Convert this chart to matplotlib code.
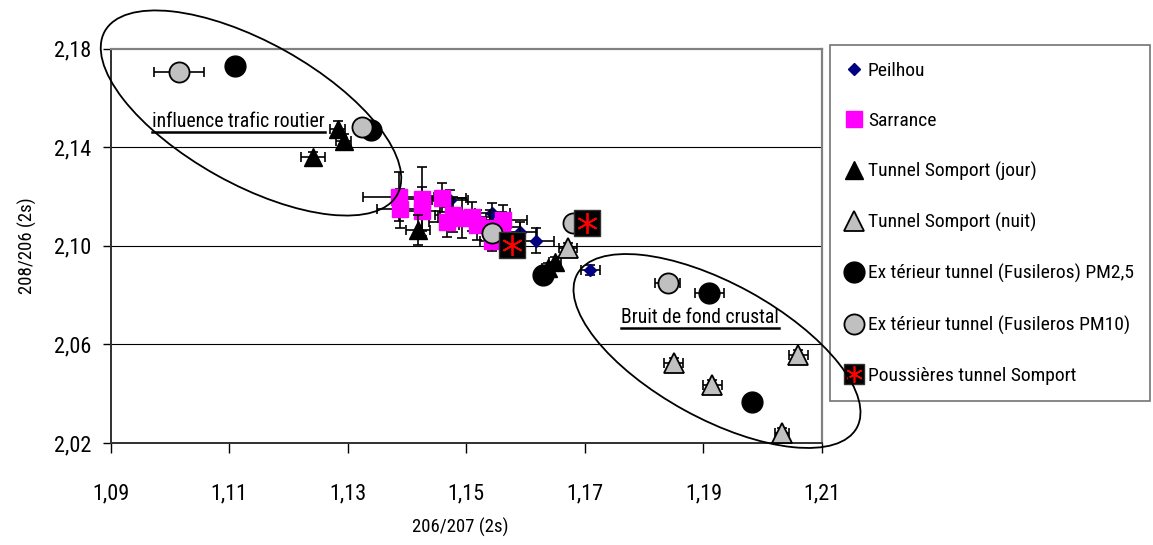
import matplotlib
matplotlib.use("Agg")
import matplotlib.pyplot as plt
from matplotlib import font_manager
from matplotlib.patches import Ellipse
from matplotlib.lines import Line2D
from matplotlib.transforms import IdentityTransform
from matplotlib.legend_handler import HandlerTuple

names = {f.name for f in font_manager.fontManager.ttflist}
narrow = None
for cand in ['Liberation Sans Narrow', 'Arial Narrow', 'Roboto Condensed', 'Open Sans Condensed',
             'DejaVu Sans Condensed']:
    if cand in names:
        narrow = cand
        break
if narrow:
    plt.rcParams['font.family'] = [narrow, 'DejaVu Sans']
    FS_LEG, FS_ANN, FS_AX, FS_TK = 14, 14.2, 13.5, 16
else:
    plt.rcParams['font.family'] = ['Liberation Sans', 'DejaVu Sans']
    FS_LEG, FS_ANN, FS_AX, FS_TK = 12.5, 12.5, 12, 13.5

# ---------------- data ----------------
x_ticks = [1.09, 1.11, 1.13, 1.15, 1.17, 1.19, 1.21]
x_tick_labels = ["1,09", "1,11", "1,13", "1,15", "1,17", "1,19", "1,21"]
y_ticks = [2.02, 2.06, 2.10, 2.14, 2.18]
y_tick_labels = ["2,02", "2,06", "2,10", "2,14", "2,18"]

peil_x = [1.1473, 1.1544, 1.1590, 1.1618, 1.1709]
peil_y = [2.1187, 2.1134, 2.1057, 2.1020, 2.0902]
peil_xerr = [0.003, 0.003, 0.003, 0.003, 0.0016]
peil_yerr = [0.004, 0.004, 0.004, 0.005, 0.002]

sarr_x = [1.1386, 1.1389, 1.1426, 1.1426, 1.1459, 1.1468, 1.1478, 1.1493,
          1.1510, 1.1518, 1.1540, 1.1560, 1.1562, 1.1544]
sarr_y = [2.1199, 2.1150, 2.1190, 2.1140, 2.1195, 2.1097, 2.1126, 2.1113,
          2.1118, 2.1085, 2.1073, 2.1077, 2.1105, 2.1020]
sarr_xerr = [0.006, 0.004, 0.004, 0.003, 0.004, 0.003, 0.003, 0.004,
             0.003, 0.003, 0.003, 0.003, 0.004, 0.002]
sarr_yerr = [0.010, 0.008, 0.013, 0.010, 0.006, 0.006, 0.007, 0.008,
             0.006, 0.006, 0.007, 0.006, 0.006, 0.004]

jour_x = [1.1242, 1.1283, 1.1293, 1.1419, 1.1638, 1.1650]
jour_y = [2.1361, 2.1474, 2.1425, 2.1065, 2.0910, 2.0935]
jour_xerr = [0.002, 0.0012, 0.0012, 0.002, 0.001, 0.001]
jour_yerr = [0.002, 0.003, 0.003, 0.006, 0.002, 0.002]

nuit_x = [1.1672, 1.1850, 1.1915, 1.2060, 1.2033]
nuit_y = [2.0990, 2.0525, 2.0436, 2.0557, 2.0240]
nuit_xerr = [0.0015, 0.0016, 0.0016, 0.0016, 0.0012]
nuit_yerr = [0.002, 0.002, 0.002, 0.002, 0.002]

pm25_x = [1.1110, 1.1340, 1.1630, 1.1910, 1.1982]
pm25_y = [2.1727, 2.1470, 2.0882, 2.0809, 2.0366]
pm25_xerr = [0.0012, 0.0012, 0.001, 0.0025, 0.0012]
pm25_yerr = [0.0005, 0.0005, 0.0005, 0.0005, 0.0005]

pm10_x = [1.1016, 1.1325, 1.1544, 1.1680, 1.1840]
pm10_y = [2.1706, 2.1480, 2.1053, 2.1093, 2.0850]
pm10_xerr = [0.0042, 0.001, 0.001, 0.001, 0.0021]
pm10_yerr = [0.0008, 0.0008, 0.0008, 0.0008, 0.0008]

pous_x = [1.1577, 1.1704]
pous_y = [2.1005, 2.1093]

labels = ["Peilhou", "Sarrance", "Tunnel Somport (jour)", "Tunnel Somport (nuit)",
          "Ex térieur tunnel (Fusileros) PM2,5", "Ex térieur tunnel (Fusileros PM10)",
          "Poussières tunnel Somport"]

# ---------------- figure ----------------
W, H = 1153, 545
fig = plt.figure(figsize=(W / 100, H / 100), dpi=100)
ax = fig.add_axes([110.5 / W, (H - 443) / H, (822 - 110.5) / W, (443 - 48.5) / H])
ax.set_xlim(1.09, 1.21)
ax.set_ylim(2.02, 2.18)

eb_kw = dict(fmt='none', ecolor='black', elinewidth=1.2, capsize=3.6, capthick=1.2)

series = [
    (peil_x, peil_y, peil_xerr, peil_yerr, dict(marker='D', ms=6.5, mfc='#000080', mec='#000080')),
    (sarr_x, sarr_y, sarr_xerr, sarr_yerr, dict(marker='s', ms=11.5, mfc='#ff00ff', mec='#ff00ff')),
    (jour_x, jour_y, jour_xerr, jour_yerr, dict(marker='^', ms=13.5, mfc='black', mec='black')),
    (nuit_x, nuit_y, nuit_xerr, nuit_yerr, dict(marker='^', ms=14, mfc='#c0c0c0', mec='black', mew=1.3)),
    (pm25_x, pm25_y, pm25_xerr, pm25_yerr, dict(marker='o', ms=15, mfc='black', mec='black')),
    (pm10_x, pm10_y, pm10_xerr, pm10_yerr, dict(marker='o', ms=14.5, mfc='#c0c0c0', mec='black', mew=1.3)),
]
handles = []
z = 3
for (xs, ys, xe, ye, stl), lab in zip(series, labels):
    ax.errorbar(xs, ys, xerr=xe, yerr=ye, zorder=z, **eb_kw)
    h, = ax.plot(xs, ys, linestyle='none', zorder=z + 0.5, label=lab, **stl)
    handles.append(h)
    z += 1

sq, = ax.plot(pous_x, pous_y, linestyle='none', marker='s', ms=19, mfc='black',
              mec='#303030', zorder=z + 0.5)
st, = ax.plot(pous_x, pous_y, linestyle='none', marker=(6, 2, 0), ms=15, mec='red',
              mew=1.3, zorder=z + 0.6)

# legend-only proxies (smaller Poussières symbol, as in the reference key)
leg_sq = Line2D([], [], linestyle='none', marker='s', ms=15, mfc='black', mec='#303030')
leg_st = Line2D([], [], linestyle='none', marker=(6, 2, 0), ms=12, mec='red', mew=1.2)
handles.append((leg_sq, leg_st))

# ---------------- axes style ----------------
ax.set_xticks(x_ticks)
ax.set_xticklabels(x_tick_labels)
ax.set_yticks(y_ticks)
ax.set_yticklabels(y_tick_labels)
ax.tick_params(axis='x', direction='out', length=7, width=1, pad=22, labelsize=FS_TK)
ax.tick_params(axis='y', direction='out', length=6, width=1, pad=8, labelsize=FS_TK)
for yv in y_ticks[1:-1]:
    ax.axhline(yv, color='black', lw=0.8, zorder=1)
ax.spines['left'].set_color('#303030')
ax.spines['bottom'].set_color('#303030')
ax.spines['left'].set_linewidth(1.4)
ax.spines['bottom'].set_linewidth(1.4)
ax.spines['top'].set_color('#808080')
ax.spines['right'].set_color('#808080')
ax.spines['top'].set_linewidth(1.6)
ax.spines['right'].set_linewidth(1.6)

fig.text(27 / W, 1 - 246 / H, "208/206 (2s)", rotation=90, ha='center', va='center', fontsize=FS_AX)
fig.text(460 / W, 1 - 527 / H, "206/207 (2s)", ha='center', va='center', fontsize=FS_AX)

# annotations
t1 = ax.text(1.0970, 2.1483, "influence trafic routier", fontsize=FS_ANN, ha='left', va='baseline', zorder=20)
t2 = ax.text(1.1761, 2.0687, "Bruit de fond crustal", fontsize=FS_ANN, ha='left', va='baseline', zorder=20)

# legend
leg = fig.legend(handles, labels, loc='upper left', bbox_to_anchor=(830 / W, 1 - 45 / H),
                 bbox_transform=fig.transFigure, borderaxespad=0, frameon=True, fancybox=False,
                 edgecolor='#505050', fontsize=FS_LEG, handlelength=0.8, handletextpad=0.3,
                 labelspacing=1.65, borderpad=0.85,
                 handler_map={tuple: HandlerTuple(ndivide=1)})
leg.get_frame().set_linewidth(1.2)

# ellipses
fig.add_artist(Ellipse((2.51, (H - 113) / 100), 3.35, 1.42, angle=-29.2,
                       transform=fig.dpi_scale_trans, fill=False, ec='black', lw=1.3, zorder=10))
fig.add_artist(Ellipse((7.17, (H - 351) / 100), 3.19, 1.35, angle=-28.8,
                       transform=fig.dpi_scale_trans, fill=False, ec='black', lw=1.3, zorder=10))

# underlines derived from text extents
fig.canvas.draw()
r = fig.canvas.get_renderer()
for t in (t1, t2):
    bb = t.get_window_extent(r)
    fig.add_artist(Line2D([bb.x0, bb.x1], [bb.y0 - 1, bb.y0 - 1], transform=IdentityTransform(),
                          color='black', lw=1.8, zorder=20))

fig.savefig("out.png", dpi=100, facecolor='white')
